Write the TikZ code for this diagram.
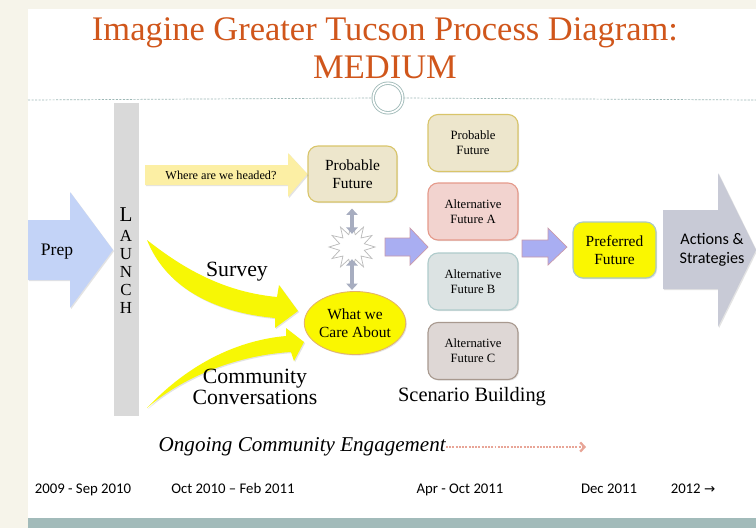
\documentclass[tikz,border=0pt]{standalone}
\usepackage{fontspec}
\setmainfont{Liberation Serif}
\newfontfamily\calibri{Carlito}
\newfontfamily\symfont{DejaVu Sans}
\usetikzlibrary{shapes.geometric,shadows,arrows.meta}

\definecolor{pagecream}{HTML}{F6F4EA}
\definecolor{ruleteal}{HTML}{9DB8B6}
\definecolor{titleorange}{HTML}{D0561B}
\definecolor{launchgrey}{HTML}{D9D9D9}
\definecolor{prepblue}{HTML}{C3D3F7}
\definecolor{headedyellow}{HTML}{FCEFA4}
\definecolor{probfill}{HTML}{EDE6CC}
\definecolor{probline}{HTML}{D9C56A}
\definecolor{carefill}{HTML}{FAF700}
\definecolor{careline}{HTML}{E2B26A}
\definecolor{linkgrey}{HTML}{A7ADC0}
\definecolor{stepblue}{HTML}{A9AEF2}
\definecolor{stepline}{HTML}{C99AAA}
\definecolor{altafill}{HTML}{F2D3CF}
\definecolor{altaline}{HTML}{E59A8B}
\definecolor{altbfill}{HTML}{DCE3E3}
\definecolor{altbline}{HTML}{AFCBCB}
\definecolor{altcfill}{HTML}{DED7D5}
\definecolor{altcline}{HTML}{A8998F}
\definecolor{prefline}{HTML}{ABC8C4}
\definecolor{actiongrey}{HTML}{C8CAD6}
\definecolor{sweepyellow}{HTML}{F7F705}
\definecolor{engagepink}{HTML}{E8A597}

\begin{document}
\begin{tikzpicture}[x=0.25mm, y=-0.25mm,
  soft/.style={drop shadow={shadow xshift=0.8pt, shadow yshift=-0.8pt, opacity=0.22}},
  futurebox/.style={rounded corners=2.5mm, line width=0.8pt, minimum width=22.5mm,
    minimum height=14.25mm, align=center, font=\fontsize{9}{10.5}\selectfont, soft},
  bigtext/.style={font=\fontsize{15.5}{15}\selectfont, align=center, inner sep=0pt},
  datetext/.style={font=\calibri\fontsize{10.5}{12}\selectfont, inner sep=0pt, anchor=base},
  updown/.style={linkgrey, line width=3pt, {Triangle[width=8pt,length=4.5pt]}-{Triangle[width=8pt,length=4.5pt]}}]
  \useasboundingbox (0,0) rectangle (756,528);
  % slide background, white panel and bottom band
  \fill[pagecream] (0,0) rectangle (756,528);
  \fill[white] (28,9) rectangle (756,518);
  \fill[ruleteal!95!white] (28,518) rectangle (756,528);

  % heading
  \node[text=titleorange, font=\fontsize{24.5}{26}\selectfont, inner sep=0pt] (title) at (385,33)
    {Imagine Greater Tucson Process Diagram:};
  \node[text=titleorange, font=\fontsize{24.5}{26}\selectfont, inner sep=0pt] (medium) at (385,67) {MEDIUM};
  \node[circle, draw=ruleteal, line width=0.6pt, double=white, double distance=1.2pt,
    minimum size=7.4mm, inner sep=0pt] (ring) at (388,98) {};
  \draw[ruleteal, dash pattern=on 1.5pt off 1pt, line width=0.5pt] (28,100) -- (ring.west);
  \draw[ruleteal, dash pattern=on 1.5pt off 1pt, line width=0.5pt] (ring.east) -- (756,100);

  % launch bar
  \node[fill=launchgrey, minimum width=6.25mm, minimum height=78.25mm, inner sep=0pt] (launch) at (126,259.5) {};
  \node[font=\fontsize{15}{15}\selectfont, inner sep=0pt] (launch-L) at (126,215) {L};
  \foreach \ch [count=\i] in {A,U,N,C,H}
    \node[font=\fontsize{12}{12}\selectfont, inner sep=0pt] (launch-\ch) at (126,218+18*\i) {\ch};

  % prep arrow
  \fill[prepblue, soft] (28,220) -- (70,220) -- (70,192) -- (113,250) -- (70,308) -- (70,280) -- (28,280) -- cycle;
  \node[font=\fontsize{12.5}{13}\selectfont, inner sep=0pt] (prep) at (57,252) {Prep};

  % probable future and what we care about
  \node[futurebox, fill=probfill, draw=probline, minimum width=22.25mm, minimum height=14mm,
    font=\fontsize{11}{12.5}\selectfont] (probable) at (352.5,174) {Probable\\Future};
  \fill[headedyellow, soft] (145,165) -- (288,165) -- (288,153) -- (probable.west) -- (288,197) -- (288,185) -- (145,185) -- cycle;
  \node[font=\fontsize{8.7}{9}\selectfont, inner sep=0pt] (headed) at (221,175) {Where are we headed?};

  \node[ellipse, fill=carefill, draw=careline, line width=0.6pt, minimum width=23.75mm,
    minimum height=15.75mm, inner sep=0pt, align=center, soft,
    font=\fontsize{11}{12.5}\selectfont] (care) at (355,323) {What we\\Care About};
  \node[star, star points=12, star point ratio=1.8, minimum size=11.5mm, draw=gray!55,
    line width=0.5pt, fill=white, inner sep=0pt] (spark) at (352,247) {};
  \draw[updown, shorten <=-2.75mm, shorten >=1.5mm] (spark.north) -- (spark.north |- probable.south);
  \draw[updown, shorten <=-3mm, shorten >=0.3mm] (spark.south) -- (spark.south |- care.north);

  % survey and community sweeps
  \fill[sweepyellow, soft] (147,240) .. controls (185,270) and (225,292) .. (277,297)
    -- (279,285) -- (298,311) -- (275,328) -- (275,318) .. controls (210,312) and (165,285) .. cycle;
  \fill[sweepyellow, soft] (147,408) .. controls (190,362) and (240,340) .. (286,336)
    -- (286,328) -- (304,342) -- (294,361) -- (291,352) .. controls (240,355) and (185,375) .. cycle;
  \node[bigtext] (survey) at (237,272) {Survey};
  \node[bigtext] (community) at (255,387) {Community\\Conversations};

  % scenario building column
  \node[futurebox, fill=probfill, draw=probline] (probable-b) at (473,143) {Probable\\Future};
  \node[futurebox, fill=altafill, draw=altaline] (alt-a) at (473,211.5) {Alternative\\Future A};
  \node[futurebox, fill=altbfill, draw=altbline] (alt-b) at (473,281.5) {Alternative\\Future B};
  \node[futurebox, fill=altcfill, draw=altcline] (alt-c) at (473,351) {Alternative\\Future C};
  \node[bigtext, font=\fontsize{14.5}{15}\selectfont] (scenario) at (472,397) {Scenario Building};
  \fill[stepblue, draw=stepline, line width=0.5pt] (385,238) -- (410,238) -- (410,228) -- (428,247)
    -- (410,265) -- (410,256) -- (385,256) -- cycle;

  % preferred future and actions
  \node[futurebox, fill=carefill, draw=prefline, minimum width=20.75mm, minimum height=14mm,
    font=\fontsize{11}{12.5}\selectfont] (preferred) at (614.5,250) {Preferred\\Future};
  \fill[stepblue, draw=stepline, line width=0.5pt] (522,240) -- (548,240) -- (548,228) -- (567,247)
    -- (548,265) -- (548,257) -- (522,257) -- cycle;
  \fill[actiongrey, soft] (663,210) -- (718,210) -- (718,173) -- (756,250) -- (718,327) -- (718,289) -- (663,289) -- cycle;
  \node[font=\calibri\fontsize{11.5}{13.5}\selectfont, align=center, inner sep=0pt] (actions) at (712,250)
    {Actions \&\\Strategies};

  % engagement line and timeline
  \node[font=\itshape\fontsize{15}{16}\selectfont, anchor=east, inner sep=0pt] (ongoing) at (446,447)
    {Ongoing Community Engagement};
  \coordinate (engage-end) at (586,447);
  \draw[engagepink, line width=1.6pt, dash pattern=on 1.4pt off 0.9pt,
    -{Straight Barb[length=3pt,width=6.5pt]}] (ongoing.east) -- (engage-end);
  \node[datetext] (d-prep) at (83,493) {2009 - Sep 2010};
  \node[datetext] (d-launch) at (233,493) {Oct 2010 – Feb 2011};
  \node[datetext] (d-scenario) at (460,493) {Apr - Oct 2011};
  \node[datetext] (d-preferred) at (609,493) {Dec 2011};
  \node[datetext] (d-actions) at (693,493) {2012 {\symfont\fontsize{9.5}{12}\selectfont →}};
\end{tikzpicture}
\end{document}
